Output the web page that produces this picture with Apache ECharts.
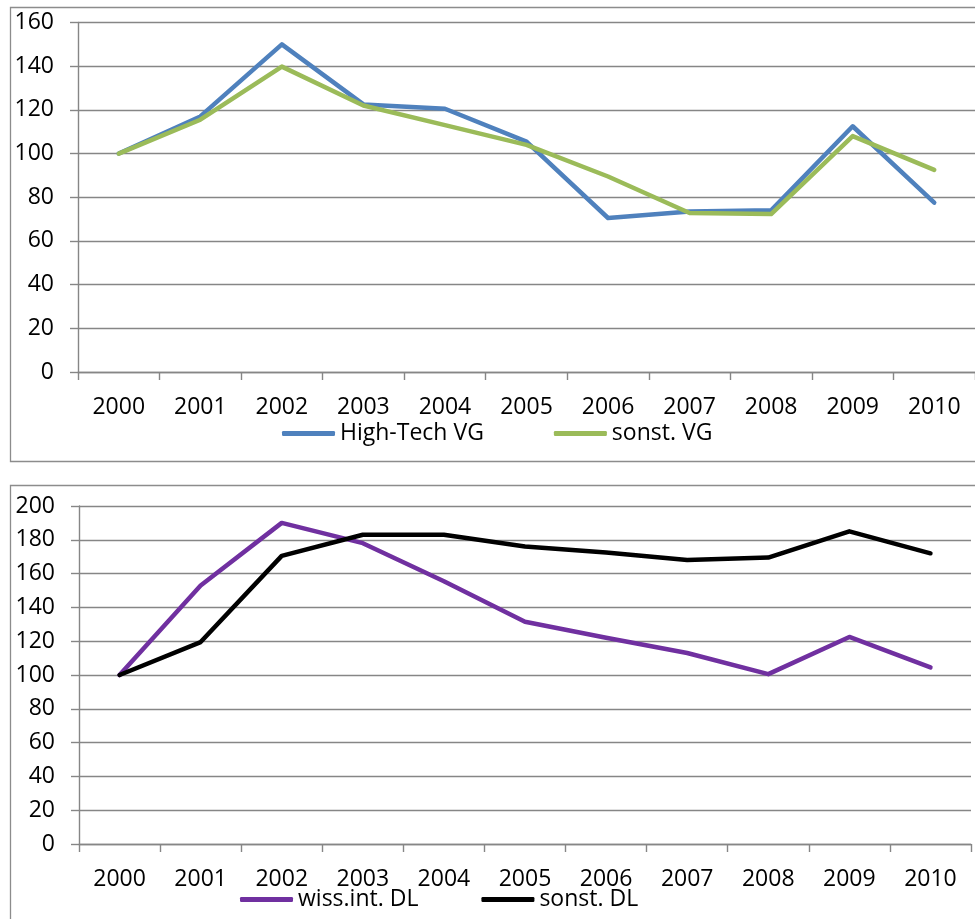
<!DOCTYPE html>
<html>
<head>
<meta charset="utf-8">
<script src="https://cdn.jsdelivr.net/npm/echarts@6/dist/echarts.min.js"></script>
<style>
  html, body { margin: 0; padding: 0; background: #fff; overflow: hidden; }
  #chart { width: 975px; height: 919px; }
</style>
</head>
<body>
<div id="chart"></div>
<script>
// Index values (2000 = 100)
const years = ['2000', '2001', '2002', '2003', '2004', '2005', '2006', '2007', '2008', '2009', '2010'];

// Manufacturing (VG)
const highTechVG = [100, 117, 150, 122.5, 120.5, 105.5, 70.5, 73.5, 74, 112.5, 77.5];
const sonstVG    = [100, 115.5, 139.8, 122, 113, 104, 89.5, 72.8, 72.3, 108, 92.5];

// Services (DL)
const wissIntDL  = [100, 153, 190, 178, 155.5, 131.5, 122, 113, 100.5, 122.5, 104.5];
const sonstDL    = [100, 119.5, 170.5, 183, 183, 176, 172.5, 168, 169.5, 185, 172];

const topTicks = { min: 0, max: 160, interval: 20 };
const bottomTicks = { min: 0, max: 200, interval: 20 };

const FONT = '"Open Sans", "Noto Sans", sans-serif';
const GRID_COLOR = '#868686';

const chart = echarts.init(document.getElementById('chart'), null, { renderer: 'canvas' });

function xAxisFor(gridIndex) {
  return {
    type: 'category',
    gridIndex,
    data: years,
    boundaryGap: true,
    axisLine: { show: true, lineStyle: { color: GRID_COLOR, width: 1.4 } },
    axisTick: { show: true, inside: false, length: 8, lineStyle: { color: GRID_COLOR, width: 1.4 } },
    axisLabel: { color: '#000', fontFamily: FONT, fontSize: 23, margin: 24, interval: 0 },
    splitLine: { show: false }
  };
}

function yAxisFor(gridIndex, ticks) {
  return {
    type: 'value',
    gridIndex,
    min: ticks.min,
    max: ticks.max,
    interval: ticks.interval,
    axisLine: { show: true, lineStyle: { color: GRID_COLOR, width: 1.4 } },
    axisTick: { show: true, inside: false, length: 8, lineStyle: { color: GRID_COLOR, width: 1.4 } },
    axisLabel: { color: '#000', fontFamily: FONT, fontSize: 23, margin: 24 },
    splitLine: { show: true, lineStyle: { color: GRID_COLOR, width: 1.4 } }
  };
}

function lineSeries(name, data, color, axisIndex) {
  return {
    name,
    type: 'line',
    xAxisIndex: axisIndex,
    yAxisIndex: axisIndex,
    data,
    symbol: 'none',
    smooth: false,
    lineStyle: { color, width: 4.5, cap: 'round', join: 'round' },
    itemStyle: { color },
    emphasis: { disabled: true },
    z: 3
  };
}

const legendText = { color: '#000', fontFamily: FONT, fontSize: 23 };

chart.setOption({
  animation: false,
  backgroundColor: '#fff',
  graphic: [
    {
      type: 'rect', left: 8, top: 5, z: -1, silent: true,
      shape: { width: 1000, height: 454 },
      style: { fill: 'none', stroke: '#8c8c8c', lineWidth: 1.3 }
    },
    {
      type: 'rect', left: 8, top: 483, z: -1, silent: true,
      shape: { width: 1000, height: 460 },
      style: { fill: 'none', stroke: '#8c8c8c', lineWidth: 1.3 }
    }
  ],
  grid: [
    { left: 78, top: 22.5, width: 909, height: 349.5, containLabel: false },
    { left: 79, top: 506, width: 892, height: 338, containLabel: false }
  ],
  xAxis: [xAxisFor(0), xAxisFor(1)],
  yAxis: [yAxisFor(0, topTicks), yAxisFor(1, bottomTicks)],
  legend: [
    {
      data: ['High-Tech VG', 'sonst. VG'],
      left: 282, top: 422,
      padding: 0,
      orient: 'horizontal',
      icon: 'roundRect',
      itemWidth: 53, itemHeight: 5, itemGap: 70,
      textStyle: legendText,
      selectedMode: false
    },
    {
      data: ['wiss.int. DL', 'sonst. DL'],
      left: 240, top: 888,
      padding: 0,
      orient: 'horizontal',
      icon: 'roundRect',
      itemWidth: 53, itemHeight: 5, itemGap: 63,
      textStyle: legendText,
      selectedMode: false
    }
  ],
  series: [
    lineSeries('High-Tech VG', highTechVG, '#4F81BD', 0),
    lineSeries('sonst. VG', sonstVG, '#9BBB59', 0),
    lineSeries('wiss.int. DL', wissIntDL, '#7030A0', 1),
    lineSeries('sonst. DL', sonstDL, '#000000', 1)
  ]
});
</script>
</body>
</html>
